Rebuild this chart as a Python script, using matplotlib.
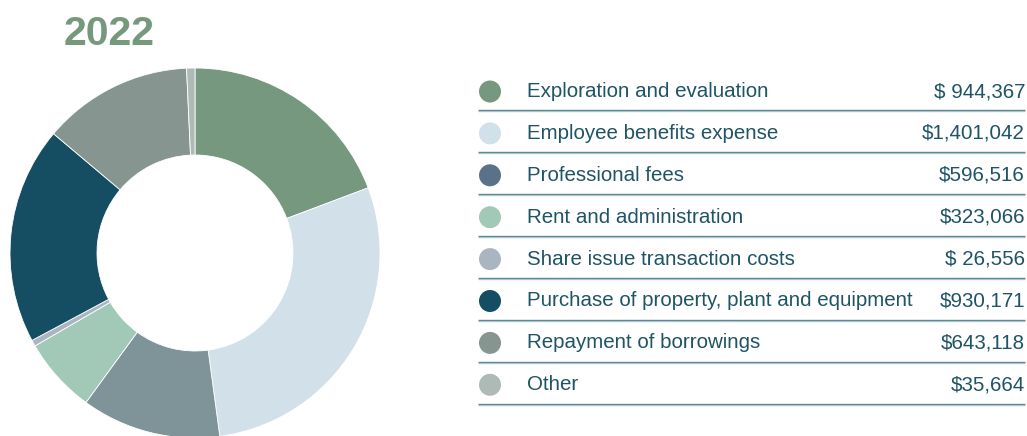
import matplotlib.pyplot as plt
from matplotlib.patches import Circle

plt.rcParams['font.family'] = ['Liberation Sans', 'DejaVu Sans']

W, H = 1027, 436

# chart data
year_label = '2022'
categories = ['Exploration and evaluation', 'Employee benefits expense', 'Professional fees',
              'Rent and administration', 'Share issue transaction costs',
              'Purchase of property, plant and equipment', 'Repayment of borrowings', 'Other']
amounts = [944367, 1401042, 596516, 323066, 26556, 930171, 643118, 35664]
amount_labels = ['$ 944,367', '$1,401,042', '$596,516', '$323,066', '$ 26,556',
                 '$930,171', '$643,118', '$35,664']

wedge_colors = ['#76987e', '#d2e0e9', '#7f9499', '#a2c8b8', '#a9b5c1', '#154d62', '#869590', '#adbab6']
dot_colors = ['#76987e', '#d2e0e9', '#5a7289', '#a2c8b8', '#a9b5c1', '#154d62', '#869590', '#adbab6']
text_color = '#1f5466'

fig = plt.figure(figsize=(W / 100, H / 100), dpi=100)
ax = fig.add_axes([0, 0, 1, 1])

# donut (y measured from bottom)
cx, cy = 195, H - 253
r_out, r_in = 185, 98
ax.pie(amounts, colors=wedge_colors, startangle=90, counterclock=False,
       center=(cx, cy), radius=r_out, frame=True,
       wedgeprops=dict(width=r_out - r_in, edgecolor='white', linewidth=0.6))
ax.set_xlim(0, W)
ax.set_ylim(0, H)
ax.set_aspect('equal')
ax.axis('off')

ax.text(64, H - 45, year_label, fontsize=29.5, fontweight='bold', color='#76997e',
        ha='left', va='baseline')

# legend table
for i, (name, lab) in enumerate(zip(categories, amount_labels)):
    y = H - (91.5 + 41.9 * i)
    ax.add_patch(Circle((490, y), 11, color=dot_colors[i], lw=0))
    ax.text(527, y, name, fontsize=14.8, color=text_color, ha='left', va='center')
    ax.text(1025, y, lab, fontsize=14.8, color=text_color, ha='right', va='center')
    # rule with a soft light shadow underneath
    ax.plot([478, 1025], [y - 20, y - 20], color='#bfd1d6', lw=1.0, solid_capstyle='butt')
    ax.plot([478, 1025], [y - 19, y - 19], color='#5b8a96', lw=1.0, solid_capstyle='butt')

fig.savefig('out.png', dpi=100)
